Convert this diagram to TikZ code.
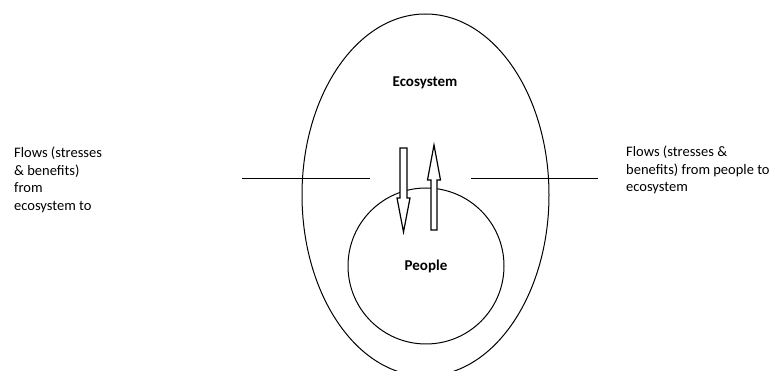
\documentclass[tikz,border=0pt]{standalone}
\usepackage{fontspec}
\setmainfont{Carlito}
\usetikzlibrary{positioning,shapes.geometric}
\tikzstyle{outline} = [draw,line width=1pt,inner sep=0pt]
\tikzstyle{blockarrow} = [draw,line width=1.2pt,fill=white,line join=miter]
\tikzstyle{flowtext} = [align=left,anchor=north west,inner sep=0pt,font=\fontsize{14.5}{17.6}\selectfont]

\begin{document}
\begin{tikzpicture}[x=1pt,y=-1pt]
      \useasboundingbox (0,0) rectangle (777,371);
      \clip (0,0) rectangle (777,371);
      \node[outline,ellipse,minimum width=247pt,minimum height=362pt](eco)at(425.5,195){};
      \node[font=\fontsize{15}{18}\selectfont\bfseries](ecolabel)at(425,83){Ecosystem};
      \node[outline,circle,minimum size=156pt,font=\fontsize{15}{18}\selectfont\bfseries](people)at(426,266){People};
      % horizontal lines
      \coordinate(la)at(242,179); \coordinate(lb)at(370,179);
      \coordinate(ra)at(471,179); \coordinate(rb)at(598,179);
      \draw[line width=1pt](la)--(lb);
      \draw[line width=1pt](ra)--(rb);
      % flow arrows
      \draw[blockarrow](400,148)--(407,148)--(407,198)--(410,198)--(403.5,232)--(397,198)--(400,198)--cycle;
      \draw[blockarrow](431,230)--(437,230)--(437,180)--(440.5,180)--(434,145)--(427.5,180)--(431,180)--cycle;
      % labels
      \node[flowtext](lefttext)at(14,147){Flows (stresses\\ \& benefits)\\ from\\ ecosystem to};
      \node[flowtext](righttext)at(626,146){Flows (stresses \&\\ benefits) from people to\\ ecosystem};
    \end{tikzpicture}
\end{document}
